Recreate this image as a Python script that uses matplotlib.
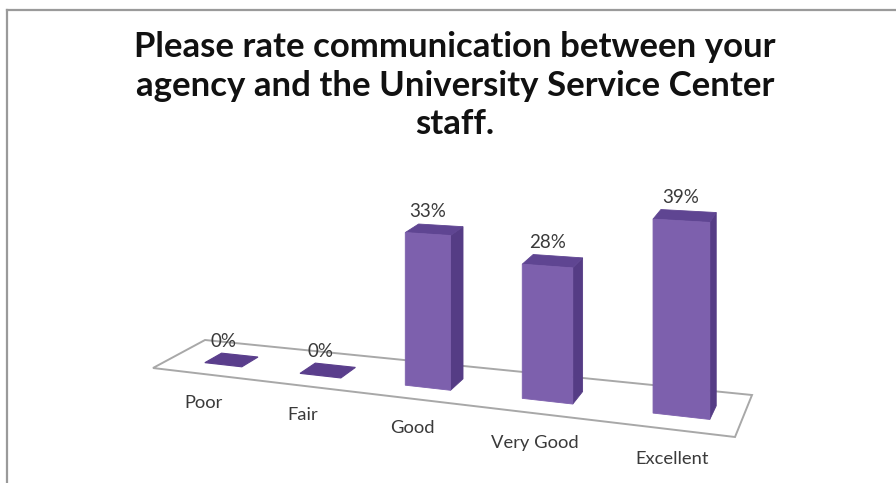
import numpy as np
import matplotlib
matplotlib.use("Agg")
import matplotlib.pyplot as plt
from matplotlib.patches import Polygon

# Survey results
categories = ["Poor", "Fair", "Good", "Very Good", "Excellent"]
percent = [0, 0, 33, 28, 39]
value_labels = ["0%", "0%", "33%", "28%", "39%"]
title_lines = ["Please rate communication between your",
               "agency and the University Service Center",
               "staff."]

# Canvas in pixel units
W, H = 896, 483
fig = plt.figure(figsize=(W / 100, H / 100), dpi=100)
ax = fig.add_axes([0, 0, 1, 1])
ax.set_xlim(0, W)
ax.set_ylim(H, 0)
ax.axis("off")

FRONT = "#7d60ad"
SIDE = "#553c85"
TOP = "#5f4592"
FLAT = "#5a3e8c"
TEXT = "#3a3a3a"

# Perspective floor: (u along categories, w into depth) -> screen
n = len(categories)
floor_src = [(0, 0), (0, 1), (n, 1), (n, 0)]
floor_dst = [(153, 368), (205, 340), (752, 395), (735, 437)]


def homography(src, dst):
    A, b = [], []
    for (x, y), (X, Y) in zip(src, dst):
        A.append([x, y, 1, 0, 0, 0, -X * x, -X * y]); b.append(X)
        A.append([0, 0, 0, x, y, 1, -Y * x, -Y * y]); b.append(Y)
    h = np.linalg.solve(np.array(A, float), np.array(b, float))
    return np.append(h, 1.0).reshape(3, 3)


Hm = homography(floor_src, floor_dst)
ref_d = (Hm @ np.array([n / 2, 0.5, 1.0]))[2]
px_per_unit = 4.6   # vertical pixels per percentage point at floor centre
depth_gamma = 0.65  # how strongly height shrinks with distance


def project(u, w, z=0.0):
    p = Hm @ np.array([u, w, 1.0])
    x, y = p[0] / p[2], p[1] / p[2]
    return x, y - z * px_per_unit * (ref_d / p[2]) ** depth_gamma


# Floor outline
floor_pts = [project(u, w) for u, w in floor_src]
ax.add_patch(Polygon(floor_pts, closed=True, fill=False,
                     edgecolor="#a8a8a8", linewidth=1.4, zorder=1))

bar_w = 0.40
bar_d = 0.33
u_shift = 0.09
w0, w1 = 0.48 - bar_d / 2, 0.48 + bar_d / 2

for i, (cat, v, lab) in enumerate(zip(categories, percent, value_labels)):
    uc = i + 0.5 + u_shift
    u0, u1 = uc - bar_w / 2, uc + bar_w / 2
    if v == 0:
        tile = [project(u0, w0), project(u1, w0), project(u1, w1), project(u0, w1)]
        ax.add_patch(Polygon(tile, closed=True, facecolor=FLAT,
                             edgecolor=FLAT, linewidth=0.8, zorder=3))
    else:
        front = [project(u0, w0), project(u1, w0), project(u1, w0, v), project(u0, w0, v)]
        side = [project(u1, w0), project(u1, w1), project(u1, w1, v), project(u1, w0, v)]
        top = [project(u0, w0, v), project(u1, w0, v), project(u1, w1, v), project(u0, w1, v)]
        ax.add_patch(Polygon(side, closed=True, facecolor=SIDE, edgecolor=SIDE,
                             linewidth=0.6, zorder=3))
        ax.add_patch(Polygon(top, closed=True, facecolor=TOP, edgecolor=TOP,
                             linewidth=0.6, zorder=3))
        ax.add_patch(Polygon(front, closed=True, facecolor=FRONT, edgecolor=FRONT,
                             linewidth=0.6, zorder=4))
    # value label just beyond the bar top
    lx, _ = project(uc, w0, v)
    _, ly = project(uc, w1, v)
    ax.text(lx, ly - 8, lab, ha="center", va="baseline", fontsize=13.5,
            family="Lato", color=TEXT, zorder=5)
    # category label in front of the floor
    cx, cy = project(uc, -0.06)
    ax.text(cx, cy + 27, cat, ha="center", va="center", fontsize=13.2,
            family="Lato", color=TEXT, zorder=5)

# Title
for line, base in zip(title_lines, [57, 95.5, 134]):
    ax.text(455, base, line, ha="center", va="baseline", fontsize=25,
            family="Lato", fontweight="bold", color="#111111")

# Chart area border (top and left edges visible)
ax.plot([7, W + 5], [10, 10], color="#9a9a9a", linewidth=1.6, zorder=6)
ax.plot([7, 7], [10, H + 5], color="#9a9a9a", linewidth=1.6, zorder=6)

fig.savefig("out.png", dpi=100)
